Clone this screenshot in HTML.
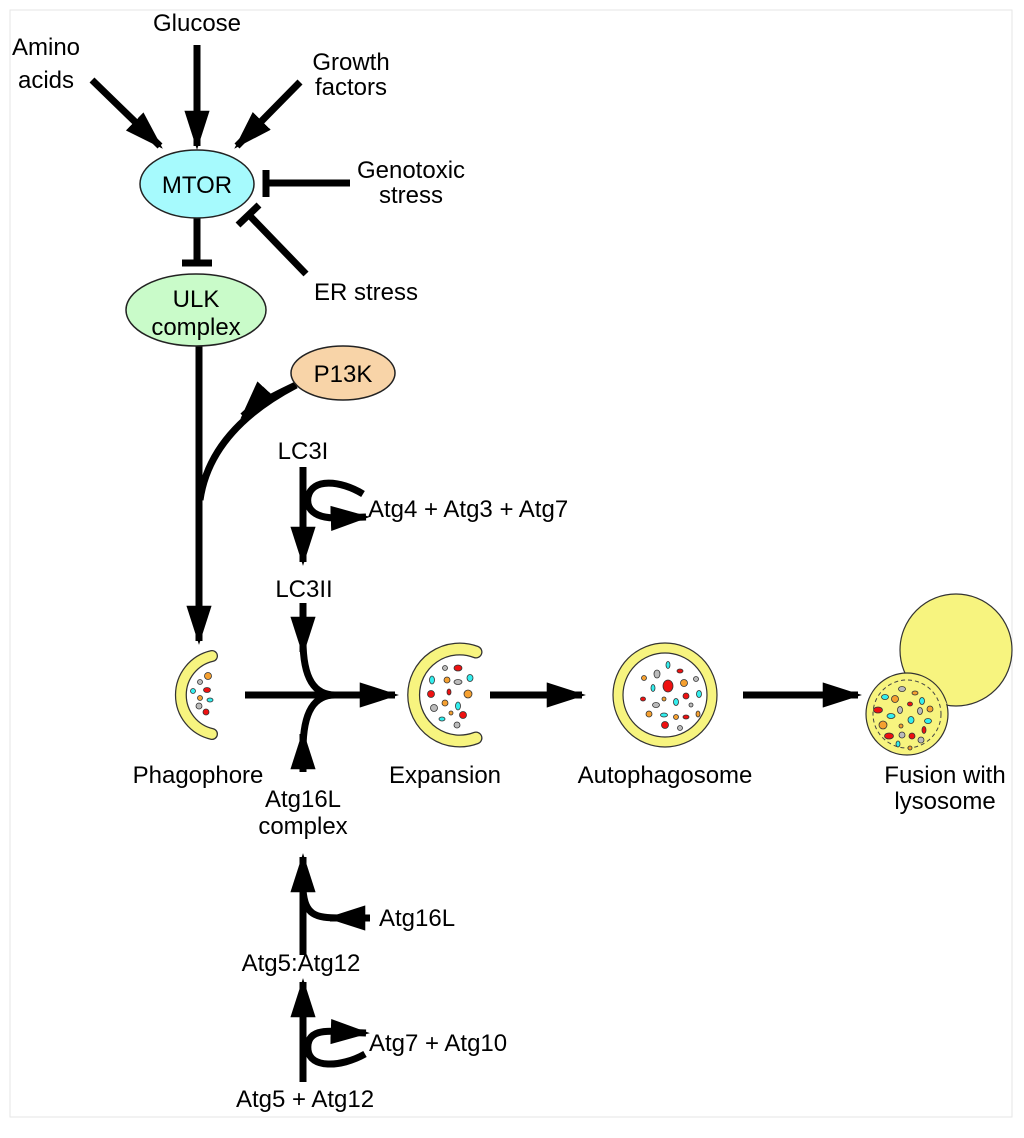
<!DOCTYPE html>
<html><head><style>
html,body{margin:0;padding:0;background:#fff;}
svg{display:block;}
text{font-family:"Liberation Sans",Arial,sans-serif;font-size:24px;fill:#000;}
</style></head><body>
<svg width="1024" height="1138" viewBox="0 0 1024 1138" xmlns="http://www.w3.org/2000/svg">
<defs>
<marker id="ah" viewBox="0 0 10 10" refX="9" refY="5" markerWidth="5.6" markerHeight="3.6" orient="auto" markerUnits="strokeWidth" preserveAspectRatio="none">
<path d="M0,0 L10,5 L0,10 z" fill="#000"/></marker>
</defs>
<rect x="10" y="10" width="1002" height="1107" fill="#fff" stroke="#e6e6e6" stroke-width="1"/>
<g stroke="#000" stroke-width="7" fill="none">
<line x1="197" y1="45" x2="197" y2="146" marker-end="url(#ah)"/>
<line x1="92" y1="80" x2="160" y2="146" marker-end="url(#ah)"/>
<line x1="300" y1="82" x2="237" y2="146" marker-end="url(#ah)"/>
<line x1="350" y1="183" x2="266" y2="183"/>
<line x1="266" y1="170" x2="266" y2="197"/>
<line x1="306" y1="274" x2="250" y2="216"/>
<line x1="238" y1="225" x2="259" y2="205"/>
<line x1="197" y1="218" x2="197" y2="263"/>
<line x1="182" y1="263" x2="212" y2="263"/>
<line x1="199" y1="345" x2="199" y2="641" marker-end="url(#ah)"/>
<path d="M296,385 Q253,405 243,416" marker-end="url(#ah)"/>
<path d="M296,385 Q210,430 200,500"/>
<line x1="303" y1="467" x2="303" y2="562" marker-end="url(#ah)"/>
<path d="M363,494 C340,480 312,478 308,497 C305,515 325,520 345,517"/>
<path d="M340,518 L366,517" marker-end="url(#ah)"/>
<line x1="303" y1="603" x2="303" y2="652" marker-end="url(#ah)"/>
<path d="M303,640 C303,680 315,695 335,695"/>
<path d="M303,750 C303,710 315,695 335,695"/>
<line x1="303" y1="772" x2="303" y2="734" marker-end="url(#ah)"/>
<line x1="245" y1="695" x2="395" y2="695" marker-end="url(#ah)"/>
<line x1="490" y1="695" x2="582" y2="695" marker-end="url(#ah)"/>
<line x1="743" y1="695" x2="858" y2="695" marker-end="url(#ah)"/>
<line x1="303" y1="955" x2="303" y2="857" marker-end="url(#ah)"/>
<path d="M303,890 C305,915 315,918 340,918"/>
<line x1="370" y1="918" x2="330" y2="918" marker-end="url(#ah)"/>
<line x1="303" y1="1082" x2="303" y2="982" marker-end="url(#ah)"/>
<path d="M365,1054 C340,1068 310,1068 308,1050 C306,1030 325,1030 345,1032"/>
<path d="M340,1032 L366,1033" marker-end="url(#ah)"/>
</g>
<ellipse cx="197" cy="184" rx="57" ry="34" fill="#a6fafd" stroke="#222" stroke-width="1.5"/>
<ellipse cx="196" cy="310" rx="70" ry="36" fill="#c9fbc9" stroke="#222" stroke-width="1.5"/>
<ellipse cx="343" cy="373" rx="52" ry="27" fill="#f8d4a8" stroke="#222" stroke-width="1.5"/>
<path d="M212,656 A40,40 0 0 0 212,734" stroke="#333" stroke-width="12" fill="none" stroke-linecap="round"/>
<path d="M212,656 A40,40 0 0 0 212,734" stroke="#f7f47f" stroke-width="9.5" fill="none" stroke-linecap="round"/>
<g stroke="#333" stroke-width="0.8">
<circle cx="208" cy="676" r="3.5" fill="#f5a030"/><circle cx="200" cy="682" r="2.5" fill="#bbb"/>
<circle cx="193" cy="691" r="2.5" fill="#3ee"/><ellipse cx="207" cy="690" rx="3.5" ry="2.5" fill="#e11"/>
<circle cx="200" cy="698" r="2.5" fill="#f5a030"/><ellipse cx="210" cy="700" rx="3" ry="2" fill="#3ee"/>
<circle cx="199" cy="706" r="3" fill="#bbb"/><circle cx="206" cy="712" r="3" fill="#e11"/>
</g>
<path d="M476,652 A46,46 0 1 0 476,738" stroke="#333" stroke-width="13" fill="none" stroke-linecap="round"/>
<path d="M476,652 A46,46 0 1 0 476,738" stroke="#f7f47f" stroke-width="10.5" fill="none" stroke-linecap="round"/>
<g stroke="#333" stroke-width="0.8">
<ellipse cx="458" cy="668" rx="4" ry="3" fill="#e11"/><circle cx="445" cy="668" r="2.5" fill="#bbb"/>
<ellipse cx="432" cy="680" rx="2.5" ry="4" fill="#3ee"/><circle cx="447" cy="680" r="3" fill="#f5a030"/>
<ellipse cx="458" cy="682" rx="4" ry="2.5" fill="#bbb"/><ellipse cx="470" cy="678" rx="3" ry="3.5" fill="#3ee"/>
<circle cx="431" cy="694" r="3.5" fill="#e11"/><ellipse cx="449" cy="692" rx="2" ry="3" fill="#e11"/>
<circle cx="468" cy="694" r="4" fill="#f5a030"/><ellipse cx="458" cy="706" rx="2.5" ry="4" fill="#3ee"/>
<circle cx="445" cy="703" r="3" fill="#f5a030"/><circle cx="434" cy="708" r="3.5" fill="#bbb"/>
<circle cx="451" cy="713" r="2" fill="#f5a030"/><ellipse cx="463" cy="715" rx="3.5" ry="3.5" fill="#e11"/>
<ellipse cx="442" cy="719" rx="3" ry="2" fill="#3ee"/><circle cx="457" cy="725" r="3" fill="#bbb"/>
</g>
<circle cx="665" cy="695" r="52" fill="#f7f47f" stroke="#333" stroke-width="1.2"/>
<circle cx="665" cy="695" r="42" fill="#fff" stroke="#333" stroke-width="1.2"/>
<g stroke="#333" stroke-width="0.8">
<ellipse cx="668" cy="665" rx="2" ry="3.5" fill="#3ee"/><ellipse cx="680" cy="671" rx="3" ry="2" fill="#e11"/>
<ellipse cx="657" cy="674" rx="3" ry="4" fill="#bbb"/><circle cx="644" cy="678" r="2.5" fill="#f5a030"/>
<ellipse cx="668" cy="686" rx="5" ry="6" fill="#e11"/><circle cx="684" cy="683" r="3.5" fill="#f5a030"/>
<circle cx="696" cy="679" r="2.5" fill="#bbb"/><ellipse cx="653" cy="688" rx="2" ry="3.5" fill="#3ee"/>
<ellipse cx="699" cy="694" rx="2.5" ry="3.5" fill="#3ee"/><circle cx="686" cy="696" r="3" fill="#e11"/>
<ellipse cx="643" cy="699" rx="2.5" ry="2" fill="#e11"/><circle cx="664" cy="699" r="2" fill="#f5a030"/>
<ellipse cx="676" cy="702" rx="2.5" ry="3.5" fill="#3ee"/><ellipse cx="656" cy="705" rx="3.5" ry="2.5" fill="#bbb"/>
<circle cx="691" cy="705" r="2" fill="#bbb"/><circle cx="649" cy="714" r="3" fill="#f5a030"/>
<ellipse cx="664" cy="715" rx="3.5" ry="2" fill="#3ee"/><circle cx="676" cy="717" r="2.5" fill="#f5a030"/>
<ellipse cx="686" cy="717" rx="3" ry="2" fill="#e11"/><ellipse cx="698" cy="714" rx="2" ry="3" fill="#f5a030"/>
<circle cx="665" cy="725" r="3.5" fill="#e11"/><circle cx="680" cy="728" r="2.5" fill="#bbb"/>
</g>
<circle cx="956" cy="650" r="56" fill="#f7f47f" stroke="#333" stroke-width="1.2"/>
<circle cx="907" cy="714" r="41" fill="#f7f47f" stroke="#333" stroke-width="1.2"/>
<path d="M920,681 A47,47 0 0 1 944,705" stroke="#f7f47f" stroke-width="6" fill="none"/>
<circle cx="907" cy="714" r="34" fill="none" stroke="#444" stroke-width="1" stroke-dasharray="4,3"/>
<g stroke="#333" stroke-width="0.8">
<ellipse cx="902" cy="689" rx="3.5" ry="2.5" fill="#bbb"/><ellipse cx="915" cy="693" rx="3" ry="2" fill="#f5a030"/>
<ellipse cx="885" cy="697" rx="3.5" ry="2.5" fill="#3ee"/><circle cx="895" cy="699" r="3.5" fill="#f5a030"/>
<ellipse cx="922" cy="701" rx="2.5" ry="3.5" fill="#3ee"/><ellipse cx="910" cy="704" rx="2.5" ry="2" fill="#e11"/>
<ellipse cx="878" cy="710" rx="4.5" ry="3" fill="#e11"/><ellipse cx="900" cy="710" rx="2.5" ry="3.5" fill="#bbb"/>
<ellipse cx="920" cy="711" rx="2.5" ry="3.5" fill="#bbb"/><circle cx="930" cy="709" r="3" fill="#f5a030"/>
<ellipse cx="891" cy="716" rx="4" ry="2.5" fill="#3ee"/><ellipse cx="911" cy="720" rx="3" ry="3.5" fill="#3ee"/>
<ellipse cx="928" cy="721" rx="3.5" ry="2.5" fill="#3ee"/><circle cx="883" cy="725" r="4" fill="#f5a030"/>
<circle cx="901" cy="726" r="2" fill="#f5a030"/><ellipse cx="924" cy="730" rx="2" ry="3.5" fill="#e11"/>
<ellipse cx="889" cy="736" rx="4.5" ry="3" fill="#e11"/><circle cx="902" cy="735" r="3" fill="#bbb"/>
<circle cx="912" cy="736" r="3" fill="#e11"/><ellipse cx="921" cy="740" rx="3" ry="3" fill="#bbb"/>
<ellipse cx="898" cy="744" rx="2" ry="3" fill="#3ee"/><circle cx="910" cy="748" r="2" fill="#f5a030"/>
</g>
<g text-anchor="middle">
<text x="197" y="31">Glucose</text>
<text x="46" y="55">Amino</text><text x="46" y="88">acids</text>
<text x="351" y="70">Growth</text><text x="351" y="95">factors</text>
<text x="411" y="178">Genotoxic</text><text x="411" y="203">stress</text>
<text x="366" y="300">ER stress</text>
<text x="197" y="193">MTOR</text>
<text x="196" y="307">ULK</text><text x="196" y="335">complex</text>
<text x="343" y="382">P13K</text>
<text x="303" y="459">LC3I</text>
<text x="304" y="597">LC3II</text>
<text x="198" y="783">Phagophore</text>
<text x="445" y="783">Expansion</text>
<text x="665" y="783">Autophagosome</text>
<text x="945" y="783">Fusion with</text><text x="945" y="809">lysosome</text>
<text x="303" y="807">Atg16L</text><text x="303" y="834">complex</text>
<text x="301" y="971">Atg5:Atg12</text>
<text x="305" y="1107">Atg5 + Atg12</text>
</g>
<text x="368" y="517">Atg4 + Atg3 + Atg7</text>
<text x="379" y="926">Atg16L</text>
<text x="369" y="1051">Atg7 + Atg10</text>
</svg>
</body></html>
